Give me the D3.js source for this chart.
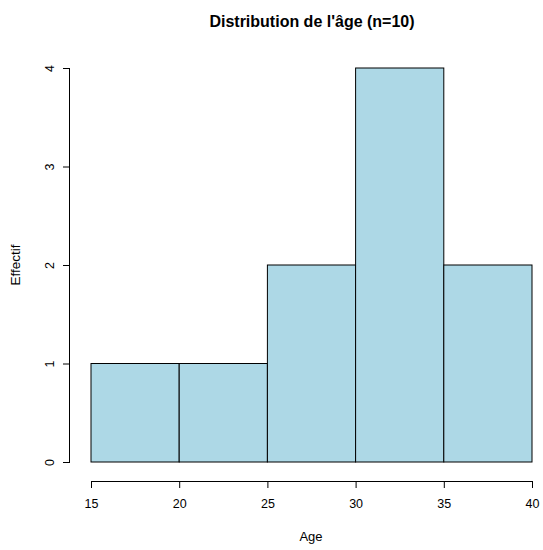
<!DOCTYPE html>
<html><head><meta charset="utf-8">
<script src="https://cdn.jsdelivr.net/npm/d3@7"></script>
<style>body{margin:0;background:#fff}svg{display:block}text{font-family:"Liberation Sans",Arial,Helvetica,sans-serif}</style>
</head><body>
<script>
const binEdges = [15, 20, 25, 30, 35, 40];
const counts = [1, 1, 2, 4, 2];
const xTicks = [15, 20, 25, 30, 35, 40];
const yTicks = [0, 1, 2, 3, 4];
const title = "Distribution de l'âge (n=10)";
const xLabel = "Age";
const yLabel = "Effectif";

const W = 543, H = 550;
const svg = d3.select("body").append("svg").attr("width", W).attr("height", H);
const x = d3.scaleLinear().domain([15, 40]).range([91, 532]);
const y = d3.scaleLinear().domain([0, 4]).range([462, 68]);

const bins = counts.map((c, i) => ({x0: binEdges[i], x1: binEdges[i + 1], c}));
svg.append("g").selectAll("rect").data(bins).join("rect")
  .attr("x", d => x(d.x0)).attr("width", d => x(d.x1) - x(d.x0))
  .attr("y", d => y(d.c)).attr("height", d => y(0) - y(d.c))
  .attr("fill", "#ADD8E6").attr("stroke", "#000").attr("stroke-width", 1);

// x axis
const xa = svg.append("g").attr("transform", "translate(0,481)")
  .call(d3.axisBottom(x).tickValues(xTicks).tickSize(7).tickPadding(11).tickFormat(d3.format("d")));
// y axis
const ya = svg.append("g").attr("transform", "translate(70,0)")
  .call(d3.axisLeft(y).tickValues(yTicks).tickSize(7).tickPadding(0).tickFormat(d3.format("d")));
[xa, ya].forEach(a => {
  a.select(".domain").attr("stroke", "#000");
  a.selectAll(".tick line").attr("stroke", "#000");
  a.selectAll("text").attr("font-size", 12.5).attr("fill", "#000").attr("font-family", '"Liberation Sans",Arial,sans-serif');
});
xa.select(".domain").attr("d", `M${x(15)},0.5H${x(40)}`);
ya.select(".domain").attr("d", `M-0.5,${y(0)}V${y(4)}`);
ya.selectAll(".tick text").attr("transform", "rotate(-90)")
  .attr("x", 0).attr("y", -16).attr("dy", "0").attr("text-anchor", "middle");

svg.append("text").attr("x", 312).attr("y", 27).attr("text-anchor", "middle")
  .attr("font-size", 16).attr("font-weight", "bold").text(title);
svg.append("text").attr("x", 311).attr("y", 541).attr("text-anchor", "middle")
  .attr("font-size", 13).text(xLabel);
svg.append("text").attr("transform", "translate(20,265) rotate(-90)").attr("text-anchor", "middle")
  .attr("font-size", 13.5).text(yLabel);
</script>
</body></html>
